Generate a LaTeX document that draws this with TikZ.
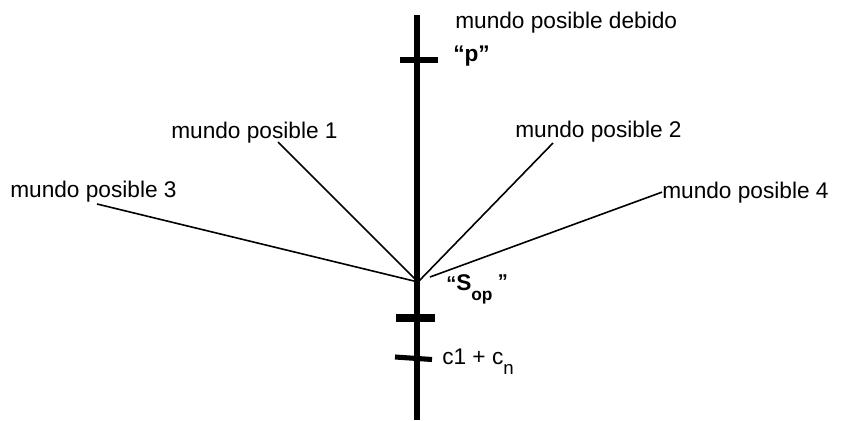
\documentclass[tikz,border=0pt]{standalone}
\usepackage{fontspec}
\setmainfont{Liberation Sans}
\usetikzlibrary{positioning}
\tikzset{
  world/.style={inner sep=0pt,anchor=base west,font=\fontsize{17}{20}\selectfont},
  tag/.style={world,font=\bfseries\fontsize{17}{20}\selectfont},
  axisline/.style={line width=5pt},
  tickbar/.style={line width=4.5pt},
  ray/.style={line width=1.2pt}
}

\begin{document}
\begin{tikzpicture}[x=0.75pt,y=-0.75pt]
  \useasboundingbox (0,0) rectangle (842,421);
  % Axis
  \coordinate (top) at (417,15);
  \coordinate (bottom) at (417,420);
  \draw[axisline] (top) -- (bottom);
  % Marks on the axis
  \draw[tickbar] (400,60) -- (438,60);
  \draw[tickbar,line width=6pt] (396,317.5) -- (435,317.5);
  \draw[tickbar,line width=3.8pt] (395,357) -- (432,359.5);
  % Labels
  \node[world] (debido) at (455,28) {mundo posible debido};
  \node[tag] (p) at (453,61) {“p”};
  \node[world] (mp1) at (171,138) {mundo posible 1};
  \node[world] (mp2) at (515,137) {mundo posible 2};
  \node[world] (mp3) at (10,197) {mundo posible 3};
  \node[world] (mp4) at (662,198) {mundo posible 4};
  \node[tag,font=\bfseries\fontsize{15}{18}\selectfont] (sop) at (446,290)
    {“{\fontsize{17}{20}\selectfont S}\raisebox{-8pt}{\fontsize{13}{15}\selectfont op}\hspace{4pt}\raisebox{1.5pt}{”}};
  \node[world] (cn) at (442,364) {c1 + c\raisebox{-8pt}{\fontsize{14}{16}\selectfont n}};
  % Rays from the actual world
  \coordinate (origin) at (418,282);
  \coordinate (e1) at (278,142);
  \coordinate (e2) at (553,143);
  \coordinate (e3) at (97,204);
  \coordinate (s4) at (430,277);
  \draw[ray] (origin) -- (e1);
  \draw[ray] (origin) -- (e2);
  \draw[ray] (origin) -- (e3);
  \draw[ray] (s4) -- (mp4.west);
\end{tikzpicture}
\end{document}
